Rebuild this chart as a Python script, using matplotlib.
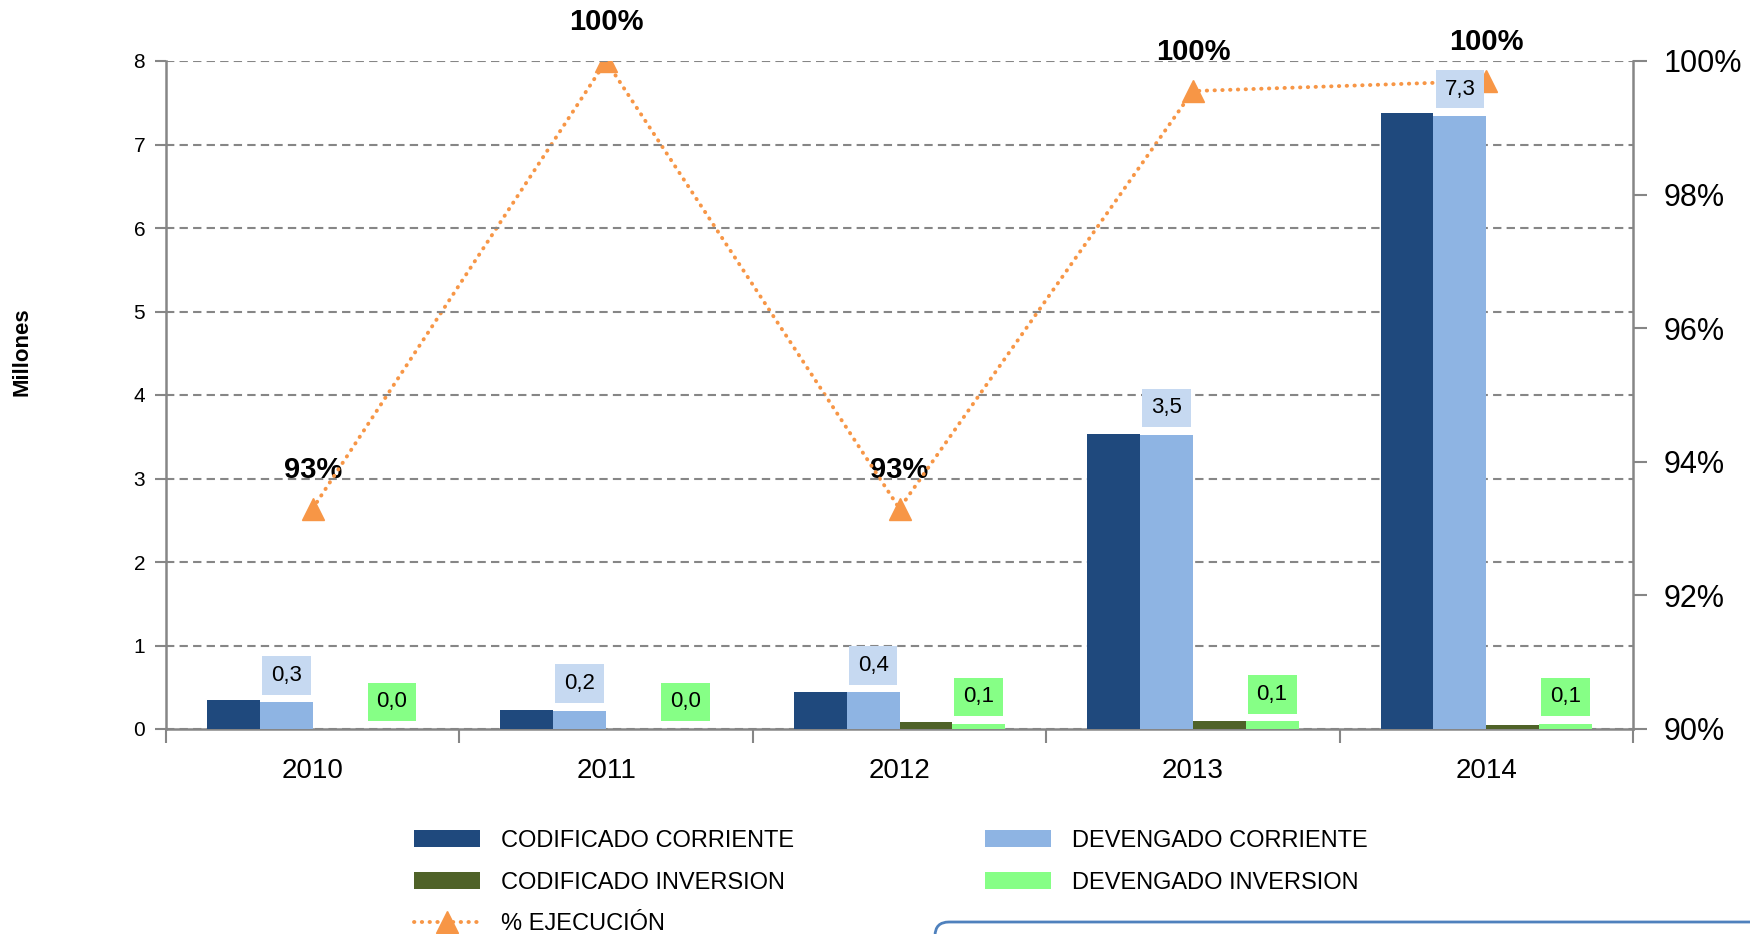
import matplotlib
matplotlib.use("Agg")
import matplotlib.pyplot as plt
import numpy as np
from matplotlib.lines import Line2D
from matplotlib.patches import FancyBboxPatch, Patch
from matplotlib.ticker import FixedLocator, FuncFormatter

plt.rcParams["font.family"] = ["Liberation Sans Narrow", "Liberation Sans", "DejaVu Sans"]

# data (millions / execution share)
years = ["2010", "2011", "2012", "2013", "2014"]
codificado_corriente = [0.35, 0.23, 0.44, 3.53, 7.38]
devengado_corriente = [0.32, 0.22, 0.44, 3.52, 7.34]
codificado_inversion = [0.0, 0.0, 0.08, 0.10, 0.05]
devengado_inversion = [0.0, 0.0, 0.06, 0.09, 0.06]
ejecucion = [0.933, 1.0, 0.933, 0.9955, 0.997]

c_dark = "#1F497D"
c_light = "#8EB4E3"
c_green_dark = "#4F6228"
c_green = "#86FF86"
c_orange = "#F79646"
c_grid = "#868686"
dots = (0, (0.1, 1.9))

fig = plt.figure(figsize=(17.5, 9.34), dpi=100, facecolor="white")
ax = fig.add_axes([166 / 1750, 1 - 729 / 934, (1633 - 166) / 1750, (729 - 61) / 934])
ax2 = ax.twinx()

x = np.arange(len(years))
w = 0.18
series = [
    (codificado_corriente, c_dark, -1.5),
    (devengado_corriente, c_light, -0.5),
    (codificado_inversion, c_green_dark, 0.5),
    (devengado_inversion, c_green, 1.5),
]
for vals, col, k in series:
    ax.bar(x + k * w, vals, width=w, color=col, edgecolor="none", zorder=3)

# data labels for the "devengado" series
for vals, k, box in [(devengado_corriente, -0.5, "#C6D9F1"), (devengado_inversion, 1.5, c_green)]:
    for xi, v in zip(x, vals):
        ax.annotate(f"{v:.1f}".replace(".", ","), (xi + k * w, v),
                    xytext=(0, 19.5), textcoords="offset points",
                    ha="center", va="center", fontsize=16, color="black",
                    bbox=dict(boxstyle="square,pad=0.4", fc=box, ec="none"),
                    zorder=6)

ax.set_xlim(-0.5, len(years) - 0.5)
ax.set_ylim(0, 8)
ax.set_yticks(range(0, 9))
ax.yaxis.grid(True, color=c_grid, linestyle=(0, (4, 2.5)), linewidth=1.5, zorder=0)
ax.set_axisbelow(True)

ax.xaxis.set_major_locator(FixedLocator(np.arange(-0.5, len(years), 1.0)))
ax.xaxis.set_major_formatter(FuncFormatter(lambda v, p: ""))
ax.xaxis.set_minor_locator(FixedLocator(x))
ax.set_xticklabels(years, minor=True)
ax.tick_params(axis="x", which="major", length=10, width=1.5, color=c_grid, direction="out")
ax.tick_params(axis="x", which="minor", length=0, pad=21, labelsize=20)
ax.tick_params(axis="y", length=8, width=1.5, color=c_grid, labelsize=15, pad=7)

for side in ["top"]:
    ax.spines[side].set_visible(False)
    ax2.spines[side].set_visible(False)
for sp in [ax.spines["left"], ax.spines["bottom"], ax2.spines["right"]]:
    sp.set_color(c_grid)
    sp.set_linewidth(1.8)
ax.spines["right"].set_visible(False)
ax2.spines["left"].set_visible(False)
ax2.spines["bottom"].set_visible(False)

fig.text(22 / 1750, 1 - 352 / 934, "Millones", rotation=90, ha="center", va="center",
         fontsize=16, fontweight="bold", family="Liberation Sans")

# execution line on the right axis
ax2.plot(x, ejecucion, color=c_orange, linestyle=dots, linewidth=2.8,
         dash_capstyle="round", marker="^", markersize=16, markeredgecolor=c_orange,
         markerfacecolor=c_orange, zorder=4)
for xi, v in zip(x, ejecucion):
    ax2.annotate(f"{v * 100:.0f}%", (xi, v), xytext=(0, 28), textcoords="offset points",
                 ha="center", va="center", fontsize=21, fontweight="bold", color="black")
ax2.set_ylim(0.90, 1.00)
ax2.set_yticks(np.arange(0.90, 1.001, 0.02))
ax2.yaxis.set_major_formatter(FuncFormatter(lambda v, p: f"{v * 100:.0f}%"))
ax2.tick_params(axis="y", length=10, width=1.5, color=c_grid, labelsize=22, pad=12)

# keep labels of the bar axis above the line
ax.set_zorder(ax2.get_zorder() + 1)
ax.patch.set_visible(False)
ax2.set_zorder(0)

# legend in two blocks
h1 = [Patch(fc=c_dark, ec="none"), Patch(fc=c_green_dark, ec="none"),
      Line2D([], [], color=c_orange, linestyle=dots, linewidth=2.8,
             dash_capstyle="round", marker="^", markersize=16)]
l1 = ["CODIFICADO CORRIENTE", "CODIFICADO INVERSION", "% EJECUCIÓN"]
h2 = [Patch(fc=c_light, ec="none"), Patch(fc=c_green, ec="none")]
l2 = ["DEVENGADO CORRIENTE", "DEVENGADO INVERSION"]
kw = dict(frameon=False, fontsize=17, handlelength=2.8, handleheight=0.75,
          handletextpad=0.9, labelspacing=0.83, borderpad=0, borderaxespad=0,
          loc="upper left", bbox_transform=fig.transFigure)
fig.legend(h1, l1, bbox_to_anchor=(414 / 1750, 1 - 830 / 934), **kw)
fig.legend(h2, l2, bbox_to_anchor=(985 / 1750, 1 - 830 / 934), **kw)

# text box cut off at the bottom edge
box = FancyBboxPatch((935 / 1750, -0.05), 0.6, 0.05 + 12 / 934,
                     boxstyle="round,pad=0,rounding_size=0.008", mutation_aspect=1750 / 934,
                     transform=fig.transFigure, fc="white", ec="#4F81BD", lw=2)
fig.patches.append(box)

fig.savefig("out.png", dpi=100, facecolor="white")
